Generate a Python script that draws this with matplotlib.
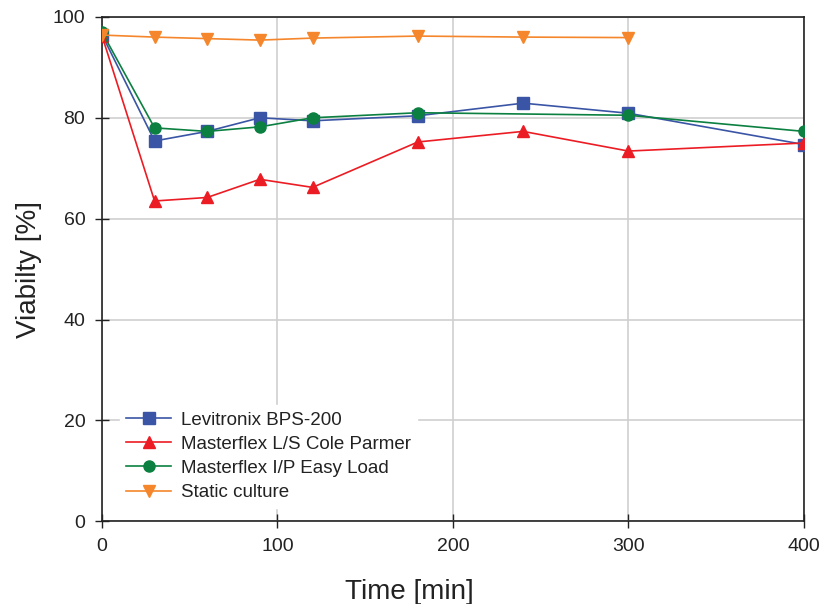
import matplotlib.pyplot as plt

plt.rcParams['font.family'] = ['Liberation Sans', 'DejaVu Sans']

# viability over time for each pump setup
time = [0, 30, 60, 90, 120, 180, 240, 300, 400]
time_static = [0, 30, 60, 90, 120, 180, 240, 300]

levitronix = [96.5, 75.4, 77.3, 80.0, 79.4, 80.4, 82.9, 80.9, 74.7]
masterflex_ls = [96.3, 63.5, 64.2, 67.8, 66.2, 75.2, 77.3, 73.4, 75.0]
masterflex_ip = [97.0, 78.0, 77.3, 78.2, 80.0, 81.0, None, 80.5, 77.3]
static_culture = [96.4, 96.0, 95.7, 95.4, 95.8, 96.2, 96.0, 95.9]

labels = ['Levitronix BPS-200', 'Masterflex L/S Cole Parmer',
          'Masterflex I/P Easy Load', 'Static culture']

fig = plt.figure(figsize=(8.22, 6.04), dpi=100)
ax = fig.add_axes([0.124, 0.137, 0.854, 0.835])

ip_t = [t for t, v in zip(time, masterflex_ip) if v is not None]
ip_v = [v for v in masterflex_ip if v is not None]

ax.plot(time, levitronix, '-s', color='#3a55a5', lw=1.2, ms=8, label=labels[0], zorder=3)
ax.plot(time, masterflex_ls, '-^', color='#ec1c24', lw=1.2, ms=9, label=labels[1], zorder=3)
ax.plot(ip_t, ip_v, '-o', color='#0b8040', lw=1.2, ms=8, label=labels[2], zorder=3)
ax.plot(time_static, static_culture, '-v', color='#f5862b', lw=1.2, ms=9, label=labels[3], zorder=3)

ax.set_xlim(0, 400)
ax.set_ylim(0, 100)
ax.set_xticks([0, 100, 200, 300, 400])
ax.set_yticks([0, 20, 40, 60, 80, 100])
ax.grid(True, color='#cfcfcf', lw=1.2, zorder=0)
ax.set_axisbelow(True)
ax.tick_params(direction='inout', length=10, width=1, labelsize=14, colors='#222222', pad=7)
for s in ax.spines.values():
    s.set_color('#222222')
    s.set_linewidth(1.2)

ax.set_xlabel('Time [min]', fontsize=20, color='#222222')
ax.xaxis.set_label_coords(0.438, -0.115)
ax.set_ylabel('Viabilty [%]', fontsize=20, color='#222222', labelpad=8)

leg = ax.legend(loc='lower left', bbox_to_anchor=(0.012, 0.008), fontsize=13.5,
                frameon=True, fancybox=False, edgecolor='white', framealpha=1,
                handlelength=2.4, handletextpad=0.5, labelspacing=0.38, borderpad=0.35)
for t in leg.get_texts():
    t.set_color('#222222')

fig.savefig('out.png', dpi=100)
